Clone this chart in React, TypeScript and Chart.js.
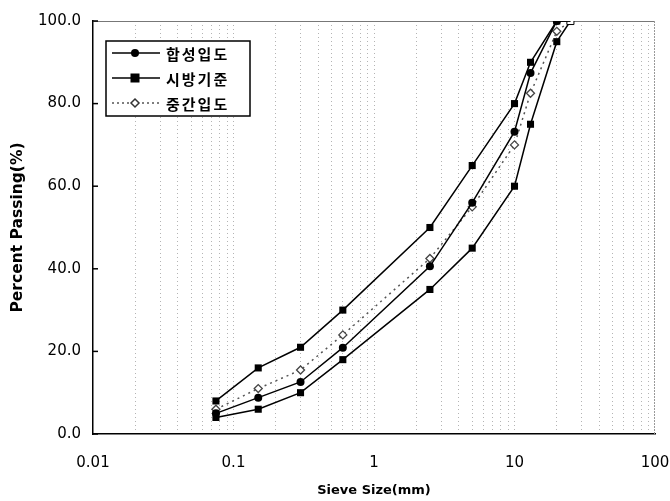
import React, { useEffect, useRef } from "react";
import { Chart, registerables } from "chart.js";

Chart.register(...registerables);

// ---- data ----
const sieveSizes = [0.075, 0.15, 0.3, 0.6, 2.5, 5, 10, 13, 20, 25];
const synthetic = [5.0, 8.8, 12.6, 20.9, 40.6, 56.0, 73.2, 87.4, 100, 100];
const specUpper = [8, 16, 21, 30, 50, 65, 80, 90, 100, 100];
const specLower = [4, 6, 10, 18, 35, 45, 60, 75, 95, 100];
const median = [6, 11, 15.5, 24, 42.5, 55, 70, 82.5, 97.5, 100];
const seriesNames = ["합성입도", "시방기준", "중간입도"];
const xMajorTicks = [0.01, 0.1, 1, 10, 100];
const xMajorLabels = ["0.01", "0.1", "1", "10", "100"];
const yTickValues = [0, 20, 40, 60, 80, 100];
const xTitle = "Sieve Size(mm)";
const yTitle = "Percent Passing(%)";

const toPoints = (ys: number[]) => sieveSizes.map((x, i) => ({ x, y: ys[i] }));

const PLOT_LEFT = 93;
const PLOT_RIGHT_PAD = 15;
const PLOT_TOP = 12;
const X_AXIS_H = 67;

function drawMarker(ctx: CanvasRenderingContext2D, kind: string, x: number, y: number) {
  ctx.save();
  ctx.setLineDash([]);
  if (kind === "circle") {
    ctx.fillStyle = "#000";
    ctx.beginPath();
    ctx.arc(x, y, 4, 0, Math.PI * 2);
    ctx.fill();
  } else if (kind === "rect") {
    ctx.fillStyle = "#000";
    ctx.fillRect(x - 4.5, y - 4.5, 9, 9);
  } else {
    ctx.fillStyle = "#fff";
    ctx.strokeStyle = "#333";
    ctx.lineWidth = 1.5;
    ctx.beginPath();
    ctx.moveTo(x, y - 4);
    ctx.lineTo(x + 4, y);
    ctx.lineTo(x, y + 4);
    ctx.lineTo(x - 4, y);
    ctx.closePath();
    ctx.fill();
    ctx.stroke();
  }
  ctx.restore();
}

const framePlugin = {
  id: "frame",
  beforeDatasetsDraw(chart: any) {
    const { ctx, chartArea: a, scales } = chart;
    ctx.save();
    ctx.strokeStyle = "#777";
    ctx.lineWidth = 1;
    ctx.beginPath();
    ctx.moveTo(a.left, a.top + 0.5);
    ctx.lineTo(a.right, a.top + 0.5);
    ctx.stroke();
    ctx.setLineDash([2, 1]);
    ctx.strokeStyle = "#999";
    ctx.beginPath();
    ctx.moveTo(a.right - 0.5, a.top);
    ctx.lineTo(a.right - 0.5, a.bottom);
    ctx.stroke();
    ctx.setLineDash([]);
    ctx.strokeStyle = "#000";
    ctx.lineWidth = 1.5;
    yTickValues.forEach((v) => {
      const y = scales.y.getPixelForValue(v);
      ctx.beginPath();
      ctx.moveTo(a.left, y);
      ctx.lineTo(a.left + 5, y);
      ctx.stroke();
    });
    ctx.restore();
  },
};

const legendPlugin = {
  id: "boxLegend",
  afterDraw(chart: any) {
    const { ctx, chartArea: a } = chart;
    const x0 = a.left + 13;
    const y0 = a.top + 20;
    const w = 144;
    const h = 75;
    ctx.save();
    ctx.fillStyle = "#fff";
    ctx.fillRect(x0, y0, w, h);
    ctx.strokeStyle = "#000";
    ctx.lineWidth = 1.5;
    ctx.strokeRect(x0, y0, w, h);
    const kinds = ["circle", "rect", "diamond"];
    const dashes = [[], [], [2, 3]];
    seriesNames.forEach((name, i) => {
      const cy = y0 + 12 + i * 25;
      ctx.strokeStyle = i === 2 ? "#555" : "#000";
      ctx.lineWidth = 1.5;
      ctx.setLineDash(dashes[i]);
      ctx.beginPath();
      ctx.moveTo(x0 + 6, cy);
      ctx.lineTo(x0 + 54, cy);
      ctx.stroke();
      ctx.setLineDash([]);
      drawMarker(ctx, kinds[i], x0 + 29, cy);
      ctx.fillStyle = "#000";
      ctx.font = "bold 15px 'Noto Sans CJK KR'";
      ctx.textBaseline = "middle";
      ctx.textAlign = "left";
      try {
        (ctx as any).letterSpacing = "2px";
      } catch (e) {}
      ctx.fillText(name, x0 + 60, cy + 1);
      try {
        (ctx as any).letterSpacing = "0px";
      } catch (e) {}
    });
    ctx.restore();
  },
};

export default function App() {
  const canvasRef = useRef<HTMLCanvasElement | null>(null);

  useEffect(() => {
    document.body.style.margin = "0";
    const canvas = canvasRef.current;
    if (!canvas) return;

    const lastIdx = sieveSizes.length - 1;
    const chart = new Chart(canvas, {
      type: "line",
      data: {
        datasets: [
          {
            label: seriesNames[0],
            data: toPoints(synthetic),
            borderColor: "#000",
            borderWidth: 1.5,
            pointStyle: "circle",
            pointRadius: (c: any) => (c.dataIndex === lastIdx ? 0 : 4),
            pointBackgroundColor: "#000",
            pointBorderColor: "#000",
            pointBorderWidth: 0,
            tension: 0,
          },
          {
            label: seriesNames[1],
            data: toPoints(specUpper),
            borderColor: "#000",
            borderWidth: 1.5,
            pointStyle: "rect",
            pointRadius: (c: any) => (c.dataIndex === lastIdx ? 0 : 5),
            pointBackgroundColor: "#000",
            pointBorderColor: "#000",
            pointBorderWidth: 0,
            tension: 0,
          },
          {
            label: seriesNames[1] + " ",
            data: toPoints(specLower),
            borderColor: "#000",
            borderWidth: 1.5,
            pointStyle: "rect",
            pointRadius: 5,
            pointBackgroundColor: (c: any) => (c.dataIndex === lastIdx ? "#fff" : "#000"),
            pointBorderColor: "#000",
            pointBorderWidth: (c: any) => (c.dataIndex === lastIdx ? 1 : 0),
            tension: 0,
          },
          {
            label: seriesNames[2],
            data: toPoints(median),
            borderColor: "#555",
            borderWidth: 1.5,
            borderDash: [2, 4],
            pointStyle: "rectRot",
            pointRadius: (c: any) => (c.dataIndex === lastIdx ? 0 : 4),
            pointBackgroundColor: "#fff",
            pointBorderColor: "#444",
            pointBorderWidth: 1.3,
            tension: 0,
          },
        ],
      },
      options: {
        animation: false,
        responsive: true,
        maintainAspectRatio: false,
        layout: { padding: { left: 0, right: PLOT_RIGHT_PAD, top: PLOT_TOP, bottom: 0 } },
        plugins: {
          legend: { display: false },
          tooltip: { enabled: false },
        },
        scales: {
          x: {
            type: "logarithmic",
            min: 0.01,
            max: 100,
            afterBuildTicks: (scale: any) => {
              const ticks: any[] = [];
              xMajorTicks.forEach((m, i) => {
                if (i === xMajorTicks.length - 1) {
                  ticks.push({ value: m, major: true });
                  return;
                }
                for (let k = 1; k <= 9; k++) ticks.push({ value: +(m * k).toPrecision(3), major: k === 1 });
              });
              scale.ticks = ticks;
            },
            afterFit: (scale: any) => {
              scale.height = X_AXIS_H;
              scale.paddingLeft = 0;
              scale.paddingRight = 0;
            },
            ticks: {
              autoSkip: false,
              maxRotation: 0,
              padding: 20,
              color: "#000",
              font: { family: "'DejaVu Sans'", size: 15 },
              callback: (v: any) => {
                const idx = xMajorTicks.findIndex((m) => Math.abs(m - Number(v)) < 1e-9);
                return idx >= 0 ? xMajorLabels[idx] : "";
              },
            },
            grid: {
              drawTicks: false,
              color: (c: any) => (c.tick && (c.tick.value === 0.01 || c.tick.value === 100) ? "rgba(0,0,0,0)" : "#b4b4b4"),
              lineWidth: 1,
            },
            border: { display: true, color: "#000", width: 1.5, dash: [1, 3] },
            title: {
              display: true,
              text: xTitle,
              color: "#000",
              font: { family: "'DejaVu Sans'", size: 13, weight: "bold" },
              padding: { top: 0, bottom: 3 },
            },
          },
          y: {
            min: 0,
            max: 100,
            afterBuildTicks: (scale: any) => {
              scale.ticks = yTickValues.map((v) => ({ value: v }));
            },
            afterFit: (scale: any) => {
              scale.width = PLOT_LEFT;
            },
            ticks: {
              padding: 12,
              color: "#000",
              font: { family: "'DejaVu Sans'", size: 15 },
              callback: (v: any) => Number(v).toFixed(1),
            },
            grid: { display: true, drawOnChartArea: false, drawTicks: false },
            border: { display: true, color: "#000", width: 1.5 },
            title: {
              display: true,
              text: yTitle,
              color: "#000",
              font: { family: "'DejaVu Sans'", size: 15.5, weight: "bold" },
              padding: { top: 9, bottom: 0 },
            },
          },
        },
      } as any,
      plugins: [framePlugin, legendPlugin],
    });

    return () => chart.destroy();
  }, []);

  return (
    <div style={{ position: "relative", width: 670, height: 501 }}>
      <canvas ref={canvasRef} />
    </div>
  );
}
